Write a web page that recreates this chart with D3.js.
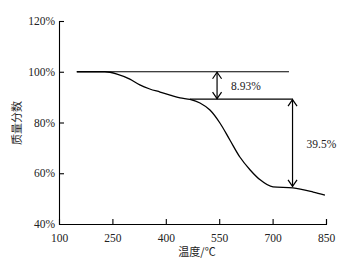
<!DOCTYPE html>
<html><head><meta charset="utf-8">
<script src="https://cdn.jsdelivr.net/npm/d3@7"></script>
<style>body{margin:0;background:#fff}svg{display:block}</style>
</head><body>
<svg id="c" width="353" height="264"></svg>
<script>
const xTicks = [100, 250, 400, 550, 700, 850];
const yTicks = [40, 60, 80, 100, 120];
const temps = [150, 229, 263, 299, 327, 355, 384, 412, 440, 468, 496, 524, 552, 580, 608, 637, 665, 701, 757, 814, 847];
const mass  = [100, 100, 99.1, 97.1, 94.8, 93.2, 92.0, 90.8, 89.7, 89.1, 87.7, 84.9, 79.8, 73.1, 66.4, 61.3, 57.4, 54.6, 54.2, 52.6, 51.4];
const refLines = [ {t0:150, t1:746, m:100}, {t0:468, t1:757, m:89.2} ];
const arrows = [ {t:544, m0:100, m1:89.2, label:"8.93%"}, {t:756, m0:89.2, m1:54.6, label:"39.5%"} ];

const svg = d3.select("#c");
const x = d3.scaleLinear().domain([100, 850]).range([59, 326]);
const y = d3.scaleLinear().domain([40, 120]).range([224, 21]);
const font = "'Liberation Serif','Times New Roman',serif";

// axes
const xa = svg.append("g").attr("transform","translate(0,224)")
  .call(d3.axisBottom(x).tickValues(xTicks).tickSize(-5).tickPadding(10).tickFormat(d3.format("d")));
const ya = svg.append("g").attr("transform","translate(59,0)")
  .call(d3.axisLeft(y).tickValues(yTicks).tickSize(-5).tickPadding(4).tickFormat(d=>d+"%"));
[xa, ya].forEach(a=>{
  a.select(".domain").attr("stroke","#000").attr("stroke-width",1.1);
  a.selectAll(".tick line").attr("stroke","#000").attr("stroke-width",1.1);
  a.selectAll(".tick text").attr("font-family",font).attr("font-size",11.5).attr("fill","#222");
});
xa.selectAll(".tick").filter(d=>d===100).select("line").remove();
ya.selectAll(".tick").filter(d=>d===40).select("line").remove();

// curve
const line = d3.line().x((d,i)=>x(temps[i])).y(d=>y(d)).curve(d3.curveMonotoneX);
svg.append("path").attr("d", line(mass)).attr("fill","none").attr("stroke","#000").attr("stroke-width",1.3);

// reference lines
svg.selectAll(".ref").data(refLines).join("line")
  .attr("x1",d=>x(d.t0)).attr("x2",d=>x(d.t1)).attr("y1",d=>y(d.m)).attr("y2",d=>y(d.m))
  .attr("stroke","#000").attr("stroke-width",1.2);

// double arrows
arrows.forEach(a=>{
  const ax = x(a.t), y0 = y(a.m0), y1 = y(a.m1);
  const g = svg.append("g").attr("stroke","#000").attr("stroke-width",1.2).attr("fill","none");
  g.append("line").attr("x1",ax).attr("x2",ax).attr("y1",y0+0.5).attr("y2",y1-0.5);
  g.append("path").attr("d",`M${ax-4.5},${y0+7}L${ax},${y0+0.5}L${ax+4.5},${y0+7}`);
  g.append("path").attr("d",`M${ax-4.5},${y1-7}L${ax},${y1-0.5}L${ax+4.5},${y1-7}`);
  svg.append("text").attr("x",ax+14).attr("y",(y0+y1)/2+4.5)
    .attr("font-family",font).attr("font-size",11.5).attr("fill","#222").text(a.label);
});

// axis titles
svg.append("text").attr("x",197).attr("y",256).attr("text-anchor","middle")
  .attr("font-family","'Noto Sans CJK SC',sans-serif").attr("font-size",11).attr("fill","#222").text("温度/℃");
svg.append("text").attr("transform","translate(21,123) rotate(-90)").attr("text-anchor","middle")
  .attr("font-family","'Noto Sans CJK SC',sans-serif").attr("font-size",11).attr("fill","#222").text("质量分数");
</script>
</body></html>
